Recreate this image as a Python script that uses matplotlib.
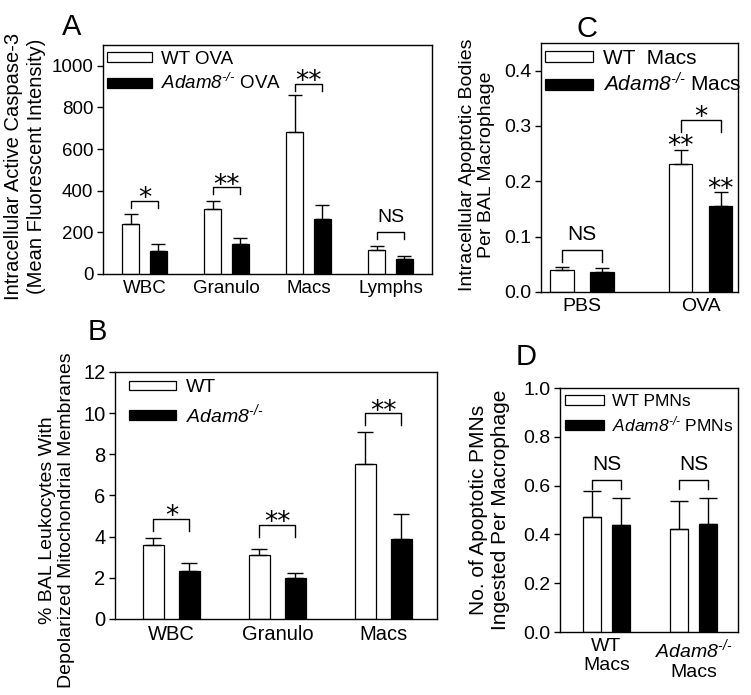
import matplotlib
matplotlib.use("Agg")
import matplotlib.pyplot as plt
import numpy as np

plt.rcParams['font.family'] = ['Liberation Sans', 'DejaVu Sans']
plt.rcParams['mathtext.fontset'] = 'custom'
plt.rcParams['mathtext.rm'] = 'Liberation Sans'
plt.rcParams['mathtext.it'] = 'Liberation Sans:italic'
plt.rcParams['mathtext.sf'] = 'Liberation Sans:italic'
plt.rcParams['mathtext.default'] = 'regular'

ADAM = '$\\mathsf{Adam8}^{\\mathsf{\u2010/\u2010}}$'

# ---------------- data ----------------
# Panel A
a_cats = ['WBC', 'Granulo', 'Macs', 'Lymphs']
a_wt = [240, 312, 682, 115]
a_wt_err = [48, 40, 178, 19]
a_ko = [112, 145, 264, 72]
a_ko_err = [34, 30, 67, 14]
a_sig = ['*', '**', '**', 'NS']
a_brk = [351, 418, 913, 202]

# Panel B
b_cats = ['WBC', 'Granulo', 'Macs']
b_wt = [3.6, 3.1, 7.53]
b_wt_err = [0.35, 0.32, 1.55]
b_ko = [2.35, 2.0, 3.89]
b_ko_err = [0.35, 0.22, 1.21]
b_sig = ['*', '**', '**']
b_brk = [4.86, 4.57, 10.0]

# Panel C
c_cats = ['PBS', 'OVA']
c_wt = [0.039, 0.231]
c_wt_err = [0.006, 0.025]
c_ko = [0.036, 0.156]
c_ko_err = [0.007, 0.024]
c_sig = ['NS', '*']
c_brk = [0.076, 0.311]
c_bar_sig_wt = ['', '**']
c_bar_sig_ko = ['', '**']

# Panel D
d_cats = ['WT\nMacs', ADAM + '\nMacs']
d_wt = [0.473, 0.422]
d_wt_err = [0.107, 0.117]
d_ko = [0.438, 0.443]
d_ko_err = [0.113, 0.108]
d_sig = ['NS', 'NS']
d_brk = [0.623, 0.623]

fig = plt.figure(figsize=(7.51, 6.95), dpi=100)

STAR_FONT = 'DejaVu Sans'


def stars(ax, s, x, y, off_pt, fs=19):
    ax.annotate(s, (x, y), xytext=(0, off_pt), textcoords='offset points',
                ha='center', va='baseline', fontsize=fs, family=STAR_FONT)


def panel(rect, cats, wt, wte, ko, koe, xlim, ylim, yticks, width, off,
          capsize, tickfs, labels, legfs, leg_anchor, hl, hh, lsp,
          sig, brk, leg_len, nsfs, ylabel, ylfs, yl_pos, letter, let_pos, fmt):
    ax = fig.add_axes(rect)
    x = np.arange(len(cats))
    b1 = ax.bar(x - off, wt, width, color='white', edgecolor='black', linewidth=0.9, zorder=2,
                label=labels[0])
    b2 = ax.bar(x + off, ko, width, color='black', edgecolor='black', linewidth=0.9, zorder=2,
                label=labels[1])
    ax.errorbar(x - off, wt, yerr=[np.zeros(len(wt)), wte], fmt='none', ecolor='black',
                elinewidth=1.0, capsize=capsize, capthick=1.0, zorder=3)
    ax.errorbar(x + off, ko, yerr=[np.zeros(len(ko)), koe], fmt='none', ecolor='black',
                elinewidth=1.0, capsize=capsize, capthick=1.0, zorder=3)
    ax.set_xlim(*xlim)
    ax.set_ylim(*ylim)
    ax.set_yticks(yticks)
    ax.set_yticklabels([fmt.format(t) for t in yticks], fontsize=tickfs)
    ax.set_xticks(x)
    ax.set_xticklabels(cats, fontsize=tickfs)
    ax.tick_params(axis='x', length=0, pad=4)
    ax.tick_params(axis='y', direction='out', length=4, width=1.0, pad=3)
    for s in ax.spines.values():
        s.set_linewidth(1.0)
    ax.legend(handles=[b1, b2], loc='upper left', bbox_to_anchor=leg_anchor,
              frameon=False, fontsize=legfs, handlelength=hl, handleheight=hh,
              handletextpad=0.5, labelspacing=lsp, borderpad=0, borderaxespad=0)
    # significance brackets
    for i, (s, yb) in enumerate(zip(sig, brk)):
        x1, x2 = i - off, i + off
        ax.plot([x1, x1, x2, x2], [yb - leg_len, yb, yb, yb - leg_len], color='black',
                lw=1.0, zorder=3)
        if s == 'NS':
            ax.annotate(s, (i, yb), xytext=(0, 4), textcoords='offset points',
                        ha='center', va='bottom', fontsize=nsfs)
        else:
            stars(ax, s, i, yb, -4)
    fig.text(yl_pos[0], yl_pos[1], ylabel, rotation=90, ha='center', va='center',
             fontsize=ylfs, multialignment='center', linespacing=1.2)
    fig.text(let_pos[0], let_pos[1], letter, ha='left', va='top', fontsize=21)
    return ax


axA = panel([0.1372, 0.6058, 0.438, 0.3295], a_cats, a_wt, a_wt_err, a_ko, a_ko_err,
            (-0.506, 3.506), (0, 1100), [0, 200, 400, 600, 800, 1000], 0.21, 0.1675,
            5.2, 13.5, ['WT OVA', ADAM + ' OVA'], 13.5, (0.012, 0.975), 2.4, 0.42, 0.3,
            a_sig, a_brk, 33, 14,
            'Intracellular Active Caspase-3\n(Mean Fluorescent Intensity)', 14.5,
            (25 / 751, 1 - 166 / 695), 'A', (62 / 751, 1 - 13 / 695), '{:d}')

axB = panel([0.1531, 0.1094, 0.4288, 0.3554], b_cats, b_wt, b_wt_err, b_ko, b_ko_err,
            (-0.533, 2.505), (0, 12), [0, 2, 4, 6, 8, 10, 12], 0.2, 0.17,
            5.5, 14.5, ['WT', ADAM], 14, (0.045, 0.97), 2.4, 0.4, 0.3,
            b_sig, b_brk, 0.6, 14,
            '% BAL Leukocytes With\nDepolarized Mitochondrial Membranes', 14,
            (57 / 751, 1 - 520 / 695), 'B', (88 / 751, 1 - 318 / 695), '{:d}')

axC = panel([0.7204, 0.5799, 0.2623, 0.3583], c_cats, c_wt, c_wt_err, c_ko, c_ko_err,
            (-0.346, 1.316), (0, 0.45), [0.0, 0.1, 0.2, 0.3, 0.4], 0.2, 0.169,
            5, 14, ['WT  Macs', ADAM + ' Macs'], 15, (0.02, 0.975), 2.3, 0.45, 0.2,
            c_sig, c_brk, 0.022, 15,
            'Intracellular Apoptotic Bodies\nPer BAL Macrophage', 14,
            (477 / 751, 1 - 165 / 695), 'C', (576 / 751, 1 - 15 / 695), '{:.1f}')
for i in range(len(c_cats)):
    for s, xo, yv, ye in ((c_bar_sig_wt[i], -0.169, c_wt[i], c_wt_err[i]),
                          (c_bar_sig_ko[i], 0.169, c_ko[i], c_ko_err[i])):
        if s:
            stars(axC, s, i + xo, yv + ye, -3)

axD = panel([0.7457, 0.0906, 0.2370, 0.3511], d_cats, d_wt, d_wt_err, d_ko, d_ko_err,
            (-0.534, 1.511), (0, 1.0), [0.0, 0.2, 0.4, 0.6, 0.8, 1.0], 0.207, 0.167,
            6.5, 14, ['WT PMNs', ADAM + ' PMNs'], 12.5, (0.03, 0.975), 2.2, 0.5, 0.3,
            d_sig, d_brk, 0.037, 15,
            'No. of Apoptotic PMNs\nIngested Per Macrophage', 15,
            (489 / 751, 1 - 510 / 695), 'D', (516 / 751, 1 - 343 / 695), '{:.1f}')

fig.savefig('out.png', dpi=100)
